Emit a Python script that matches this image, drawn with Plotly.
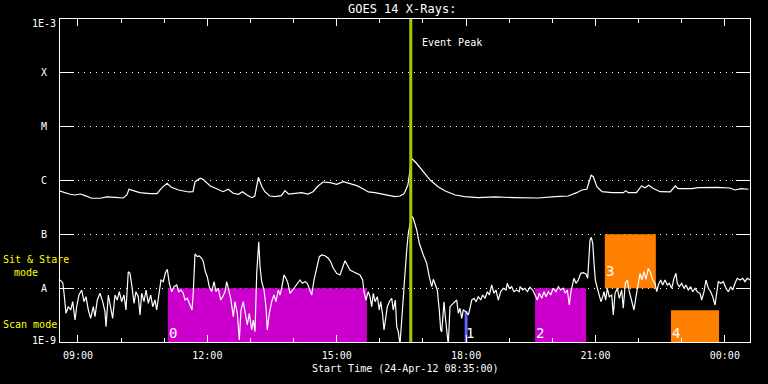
import pandas as pd
import plotly.graph_objects as go

START = pd.Timestamp("2012-04-24 08:35:00")
END = START + pd.Timedelta(hours=16)

# ---- GOES 14 long channel (1-8 A): minutes after start, log10 flux (W/m^2)
long_t = [0, 7, 14, 21, 28, 35, 44, 56, 65, 77, 88, 93, 96, 102, 111, 125, 135, 141, 149, 155,
          165, 179, 185, 188, 195, 199, 204, 209, 218, 227, 234, 241, 248, 254, 260, 267, 271, 275,
          276, 281, 285, 292, 299, 308, 313, 318, 327, 336, 345, 352, 359, 366, 376, 385, 394, 403,
          413, 422, 429, 438, 448, 457, 466, 473, 478, 480, 484, 487, 489, 496, 505, 515, 526, 536,
          550, 563, 582, 605, 633, 665, 689, 707, 719, 726, 733, 736, 739, 742, 747, 754, 768, 784,
          787, 791, 802, 809, 814, 819, 825, 835, 849, 856, 860, 879, 888, 914, 932, 939, 948, 958]
long_log = [-6.195, -6.226, -6.256, -6.269, -6.251, -6.282, -6.330, -6.330, -6.306, -6.312,
            -6.325, -6.269, -6.163, -6.189, -6.226, -6.245, -6.245, -6.145, -6.052, -6.126,
            -6.176, -6.213, -6.208, -6.022, -5.959, -5.978, -6.033, -6.102, -6.152, -6.208,
            -6.163, -6.238, -6.256, -6.208, -6.269, -6.319, -6.288, -6.052, -5.940, -6.115,
            -6.208, -6.288, -6.301, -6.282, -6.189, -6.251, -6.238, -6.226, -6.251, -6.208,
            -6.102, -6.028, -6.041, -6.070, -6.022, -6.052, -6.096, -6.158, -6.213, -6.226,
            -6.256, -6.282, -6.301, -6.288, -6.251, -6.208, -6.083, -5.805, -5.587, -5.680,
            -5.836, -5.991, -6.115, -6.195, -6.269, -6.301, -6.319, -6.306, -6.319, -6.325,
            -6.301, -6.288, -6.226, -6.176, -6.163, -6.052, -5.903, -5.929, -6.115, -6.208,
            -6.226, -6.226, -6.189, -6.226, -6.226, -6.102, -6.134, -6.089, -6.145, -6.208,
            -6.213, -6.102, -6.152, -6.152, -6.134, -6.126, -6.139, -6.176, -6.152, -6.163]

# ---- GOES 14 short channel (0.5-4 A): minutes after start, log10 flux (W/m^2)
short_t = [0, 3.8, 5.6, 8.3, 11.5, 14.9, 17.7, 20.9, 23.2, 26.4, 30.2, 33.4, 36.2, 39.4, 42.7,
           46.3, 48.7, 51.9, 55.7, 59.4, 62.6, 64.0, 67.2, 70.5, 73.3, 76.5, 79.7, 82.5, 85.8,
           89.0, 91.8, 95.0, 97.4, 99.8, 103.0, 105.7, 108.9, 111.3, 113.7, 116.9, 119.7, 122.9,
           126.2, 129.0, 132.2, 134.5, 137.7, 140.5, 143.7, 146.5, 149.3, 152.1, 155.4, 158.6,
           162.4, 165.1, 168.3, 171.5, 173.9, 177.1, 180.9, 183.7, 185.5, 187.8, 191.0, 193.8,
           197.2, 199.4, 202.2, 204.9, 207.7, 211.1, 214.3, 217.0, 220.2, 223.6, 226.4, 229.6,
           231.9, 234.2, 237.5, 241.1, 243.5, 246.7, 249.5, 251.8, 255.0, 257.8, 260.6, 263.4,
           266.7, 268.9, 271.3, 273.7, 276.5, 278.3, 280.6, 283.8, 286.6, 288.4, 291.2, 294.5,
           297.7, 300.5, 303.7, 306.1, 308.4, 311.7, 314.4, 317.2, 320.0,
           323.8, 327.0, 330.2, 333.9, 337.1, 340.9, 344.1, 346.9, 350.2, 353.4, 357.1, 360.8,
           364.1, 368.7, 373.3, 376.6, 380.2, 385.0, 389.6, 393.3, 396.5, 399.7, 403.5, 408.1,
           412.8, 417.4, 421.1, 422.9, 425.7, 428.9, 431.3, 433.7, 435.9, 438.3, 441.5, 444.2,
           446.2, 448.9, 450.8, 453.6, 455.4, 458.2, 461.5, 463.7, 466.5, 468.5, 470.7, 473.0,
           475.4, 477.6, 480.0, 482.4, 484.6, 489.0, 491.5, 496.3, 499.9, 505.5, 510.2, 513.8,
           517.2, 519.4, 521.7, 524.9, 527.7, 529.7, 531.1, 532.5, 534.3, 536.1, 538.0, 540.2,
           542.6, 544.9, 548.2, 551.9, 554.2, 556.5, 558.9, 561.1, 564.9, 568.1, 570.4, 572.8,
           576.0, 578.8, 582.0, 585.3, 588.1, 591.3, 594.5, 597.3, 600.6, 603.8, 606.6, 609.8,
           613.1, 616.8, 620.5, 622.3, 625.1, 628.4, 631.6, 635.4, 639.0,
           640.0, 643.8, 646.9, 650.2, 653.9, 657.7, 660.9, 664.1, 666.9, 670.2, 673.4, 676.2,
           679.4, 682.7, 686.3, 690.1, 693.3, 696.6, 700.2, 703.0, 705.8, 708.6, 710.9, 713.3,
           715.1, 717.9, 721.1, 724.5, 728.1, 731.8, 734.2, 736.0, 737.4, 739.2, 741.2, 743.0,
           744.8, 747.6, 750.4, 752.7, 755.1, 756.9, 759.2, 761.5, 764.2, 767.6, 769.8, 772.2,
           775.4, 778.2, 781.5, 783.7, 786.5, 789.3, 792.1, 795.4, 798.6, 801.4, 804.6, 807.0,
           809.7, 812.5, 815.3, 818.5, 821.9, 824.6, 827.8, 830.2, 832.4, 835.8, 838.5, 841.7,
           844.9, 847.7, 851.1, 854.2, 857.0, 858.8, 861.6, 865.0, 868.2, 870.9, 874.1, 877.5,
           880.3, 883.5, 886.7, 890.4, 892.8, 896.0, 898.8, 902.0, 905.3, 908.1, 911.3, 913.7,
           915.9, 919.3, 922.9, 926.6, 929.8, 933.2, 935.9, 939.1, 942.3, 946.1, 949.8, 953.0,
           956.2, 960.0]
short_log = [-7.848, -7.898, -8.095, -8.467, -8.344, -8.406, -8.251, -8.591, -8.344, -8.127,
             -8.034, -8.251, -8.158, -8.406, -8.560, -8.344, -8.530, -8.220, -8.095, -8.251,
             -8.437, -8.716, -8.127, -8.344, -8.560, -8.127, -8.220, -8.066, -8.251, -8.127,
             -8.406, -7.694, -7.724, -7.941, -8.281, -8.066, -8.158, -8.498, -8.095, -8.251,
             -8.034, -8.281, -8.127, -8.344, -8.220, -8.406, -8.095, -7.848, -7.880, -7.724,
             -7.649, -7.910, -8.066, -7.973, -7.941, -8.066, -8.034, -8.095, -8.220, -8.188,
             -8.313, -8.406, -8.066, -7.365, -7.415, -7.402, -7.445, -7.508, -7.694, -7.787,
             -7.973, -8.066, -7.880, -8.066, -8.002, -8.220, -8.158, -8.066, -7.880, -8.002,
             -8.188, -8.530, -8.251, -8.467, -8.963, -8.406, -8.251, -8.467, -8.684, -8.467,
             -8.777, -8.591, -8.809, -7.724, -7.137, -7.601, -7.880, -8.034, -8.344, -8.777,
             -8.467, -8.251, -8.127, -8.251, -8.034, -8.127, -8.002, -7.755, -7.817, -7.910,
             -8.095,
             -8.034, -7.973, -7.910, -7.848, -7.910, -7.880, -7.910, -8.002, -8.127, -7.848,
             -7.601, -7.415, -7.384, -7.397, -7.445, -7.508, -7.631, -7.724, -7.755, -7.601,
             -7.490, -7.570, -7.662, -7.694, -7.724, -7.755, -7.848, -8.066, -8.220, -8.066,
             -8.158, -8.344, -8.095, -8.251, -8.158, -8.406, -8.251, -8.498, -8.777, -8.530,
             -8.344, -8.251, -8.188, -8.406, -8.220, -8.716, -8.809, -9.050, -8.653, -8.281,
             -7.724, -7.291, -6.981, -6.659, -6.702, -6.919, -7.166, -7.384, -7.538, -7.787,
             -7.973, -7.835, -7.910, -8.034, -8.406, -8.777, -8.809, -8.467, -8.251, -8.530,
             -8.777, -9.050, -8.344, -8.313, -8.251, -8.220, -8.467, -8.374, -8.560, -8.406,
             -8.437, -8.498, -8.374, -8.220, -8.188, -8.251, -8.158, -8.220, -8.127, -8.188,
             -8.066, -8.127, -7.941, -8.095, -8.034, -8.220, -8.066, -8.002, -8.034, -7.910,
             -8.002, -7.973, -8.066, -8.034, -8.066,
             -7.973, -8.034, -8.002, -8.066, -7.984, -8.034, -8.127, -8.220, -8.095, -8.188,
             -8.066, -8.158, -8.066, -8.127, -8.002, -8.066, -7.973, -8.034, -8.002, -8.095,
             -8.034, -8.313, -8.066, -7.941, -7.817, -7.910, -7.848, -7.724, -7.713, -7.737,
             -7.817, -7.415, -7.105, -7.055, -7.166, -7.538, -7.848, -8.002, -8.127, -8.251,
             -8.158, -8.066, -8.220, -8.002, -8.158, -8.127, -8.498, -8.095, -8.002, -8.188,
             -8.034, -8.374, -7.910, -7.848, -8.066, -8.251, -8.406, -8.158, -7.910, -7.724,
             -7.848, -7.694, -7.835, -7.631, -7.724, -7.848, -7.910, -8.066, -7.941, -7.848,
             -7.941, -7.848, -7.941, -7.910, -8.002, -7.817, -7.724, -7.910, -7.973, -7.910,
             -8.002, -7.941, -8.034, -7.973, -8.066, -8.002, -8.066, -8.095, -8.220, -8.066,
             -7.848, -8.002, -8.066, -8.158, -8.313, -8.066, -7.880, -7.910, -7.880, -8.002,
             -8.066, -7.973, -8.034, -7.910, -7.817, -7.848, -7.817, -7.880, -7.817, -7.848]

# ---- observing-mode windows
rect_labels = ["0", "1", "2", "3", "4"]
rect_start = ["11:05", "17:58", "19:36", "21:13", "22:45"]
rect_end = ["15:42", "18:02", "20:47", "22:24", "23:52"]
rect_low = [1e-9, 1e-9, 1e-9, 1e-8, 1e-9]
rect_high = [1e-8, 3.7e-9, 1e-8, 1e-7, 3.9e-9]
rect_colors = ["#cc00cc", "#6464ff", "#cc00cc", "#ff8000", "#ff8000"]

event_peak = "16:43"

level_vals = [-3, -4, -5, -6, -7, -8, -9]
level_text = ["1E-3", "X", "M", "C", "B", "A", "1E-9"]

FONT = "DejaVu Sans Mono"
DAY = "2012-04-24 "


def to_time(mins):
    return [START + pd.Timedelta(minutes=m) for m in mins]


fig = go.Figure()

for s, e, lo, hi, c in zip(rect_start, rect_end, rect_low, rect_high, rect_colors):
    x0, x1 = pd.Timestamp(DAY + s), pd.Timestamp(DAY + e)
    fig.add_trace(go.Scatter(x=[x0, x1, x1, x0, x0], y=[lo, lo, hi, hi, lo], mode="lines",
                             fill="toself", fillcolor=c, line=dict(width=0, color=c),
                             hoverinfo="skip"))

fig.add_trace(go.Scatter(x=to_time(long_t), y=[10 ** v for v in long_log], mode="lines",
                         line=dict(color="white", width=1.2)))
fig.add_trace(go.Scatter(x=to_time(short_t), y=[10 ** v for v in short_log], mode="lines",
                         line=dict(color="white", width=1.2)))

peak = pd.Timestamp(DAY + event_peak)
fig.add_trace(go.Scatter(x=[peak, peak], y=[1e-9, 1e-3], mode="lines",
                         line=dict(color="#a0cc00", width=3)))

ann = []
for v, t in zip(level_vals, level_text):
    ys = 0
    if v == -3:
        ys = -4
    elif v == -9:
        ys = 2
    ann.append(dict(x=(44 - 60) / 690, xref="paper", y=v, yref="y", text=t, showarrow=False,
                    xanchor="center", yanchor="middle", yshift=ys,
                    font=dict(family=FONT, size=10, color="white")))

for lab, s, lo in zip(rect_labels, rect_start, rect_low):
    yl = -8.833 if lo < 5e-9 else -7.69
    ann.append(dict(x=pd.Timestamp(DAY + s), xref="x", y=yl, yref="y", text=lab,
                    showarrow=False, xanchor="left", yanchor="middle", xshift=-1,
                    font=dict(family=FONT, size=14, color="white")))

yellow = dict(family=FONT, size=10, color="#ffff00")
ann += [
    dict(x=(1 - 60) / 690, xref="paper", y=(342 - 259) / 323, yref="paper", text="Sit & Stare",
         showarrow=False, xanchor="left", yanchor="middle", font=yellow),
    dict(x=(12 - 60) / 690, xref="paper", y=(342 - 272) / 323, yref="paper", text="mode",
         showarrow=False, xanchor="left", yanchor="middle", font=yellow),
    dict(x=(1 - 60) / 690, xref="paper", y=(342 - 324) / 323, yref="paper", text="Scan mode",
         showarrow=False, xanchor="left", yanchor="middle", font=yellow),
    dict(x=0.4957, xref="paper", y=(342 - 9) / 323, yref="paper", text="GOES 14 X-Rays:",
         showarrow=False, xanchor="center", yanchor="middle",
         font=dict(family=FONT, size=12, color="white")),
    dict(x=0.5, xref="paper", y=(342 - 368) / 323, yref="paper",
         text="Start Time (24-Apr-12 08:35:00)", showarrow=False, xanchor="center",
         yanchor="middle", font=dict(family=FONT, size=10, color="white")),
    dict(x=(420 - 60) / 690, xref="paper", y=(342 - 43) / 323, yref="paper", text="Event Peak",
         showarrow=False, xanchor="left", yanchor="middle",
         font=dict(family=FONT, size=10, color="white")),
]

fig.update_layout(
    width=768, height=384,
    margin=dict(l=60, r=18, t=19, b=42),
    paper_bgcolor="black", plot_bgcolor="black",
    showlegend=False,
    annotations=ann,
    xaxis=dict(type="date", range=[START, END], tickformat="%H:%M",
               tick0="2012-04-24 09:00", dtick=3 * 3600000,
               ticks="inside", ticklen=7, tickwidth=1, tickcolor="white",
               minor=dict(dtick=3600000, ticks="inside", ticklen=4, tickcolor="white",
                          showgrid=False),
               ticklabelstandoff=4,
               showgrid=False, zeroline=False, showline=True, linecolor="white", linewidth=1,
               mirror="ticks", tickfont=dict(family=FONT, size=10, color="white")),
    yaxis=dict(type="log", range=[-9, -3], tickvals=[1e-8, 1e-7, 1e-6, 1e-5, 1e-4],
               showticklabels=False, ticks="inside", ticklen=14, tickwidth=1,
               tickcolor="white", showgrid=True, gridcolor="white", gridwidth=1,
               griddash="1px,5px", zeroline=False, showline=True, linecolor="white",
               linewidth=1, mirror="ticks"),
)

# remove the browser's default 8px page margin so the 768x384 figure fills the window
fig.write_html("out.html",
               config={"displayModeBar": False},
               post_script="document.body.style.margin='0';"
                           "document.body.style.background='black';")
